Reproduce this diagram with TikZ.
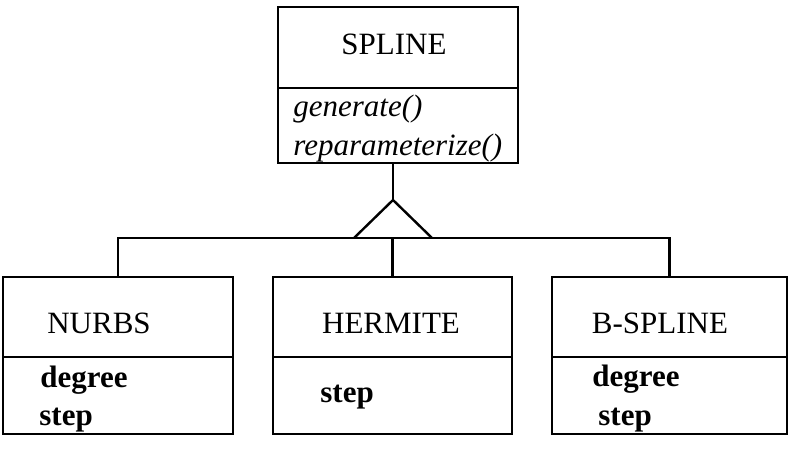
\documentclass[tikz,border=0pt]{standalone}
\usepackage{fontspec}
\setmainfont{Liberation Serif}
\usetikzlibrary{positioning}

\begin{document}
\begin{tikzpicture}[x=0.5pt, y=0.5pt,
  box/.style={draw, line width=1.2pt, inner sep=0pt, outer sep=0pt},
  conn/.style={line width=1.2pt},
  classname/.style={inner sep=0pt, anchor=base, font=\fontsize{15.5}{19}\selectfont},
  oper/.style={inner sep=0pt, anchor=base west, font=\fontsize{15.5}{19}\selectfont\itshape},
  attr/.style={inner sep=0pt, anchor=base west, font=\fontsize{15.5}{19}\selectfont\bfseries}]
\useasboundingbox (0,0) rectangle (791,456);
% superclass
\node[box, minimum width=120pt, minimum height=40.5pt, anchor=north west] (splinehead) at (278,449) {};
\node[box, minimum width=120pt, minimum height=37.5pt, below=0pt of splinehead] (splinebody) {};
\node[classname] (splinename) at (394,401) {SPLINE};
\node[oper] (gen) at (293,339) {generate()};
\node[oper] (repar) at (293,301) {reparameterize()};
% subclasses
\node[box, minimum width=115pt, minimum height=40pt, anchor=north west] (nurbshead) at (3,179) {};
\node[box, minimum width=115pt, minimum height=38.5pt, below=0pt of nurbshead] (nurbsbody) {};
\node[box, minimum width=119.5pt, minimum height=40pt, anchor=north west] (hermitehead) at (273,179) {};
\node[box, minimum width=119.5pt, minimum height=38.5pt, below=0pt of hermitehead] (hermitebody) {};
\node[box, minimum width=117.5pt, minimum height=40pt, anchor=north west] (bsplinehead) at (552,179) {};
\node[box, minimum width=117.5pt, minimum height=38.5pt, below=0pt of bsplinehead] (bsplinebody) {};
\node[classname] (nurbsname) at (99,123) {NURBS};
\node[classname] (hermitename) at (391,123) {HERMITE};
\node[classname] (bsplinename) at (660,123) {B-SPLINE};
\node[attr] (nurbsdeg) at (40,69) {degree};
\node[attr] (nurbsstep) at (39,31) {step};
\node[attr] (hermitestep) at (320,54) {step};
\node[attr] (bsplinedeg) at (592,70) {degree};
\node[attr] (bsplinestep) at (598,31) {step};
% inheritance
\coordinate (apex) at (393,256);
\coordinate (baseL) at (354,218);
\coordinate (baseR) at (432,218);
\draw[conn] (splinebody.south -| apex) -- (apex);
\draw[conn] (baseL) -- (apex) -- (baseR);
\draw[conn] (nurbshead.north) -- (nurbshead.north |- baseL)
  -- (bsplinehead.north |- baseL) -- (bsplinehead.north);
\draw[conn] (hermitehead.north |- baseL) -- (hermitehead.north);
\end{tikzpicture}
\end{document}
